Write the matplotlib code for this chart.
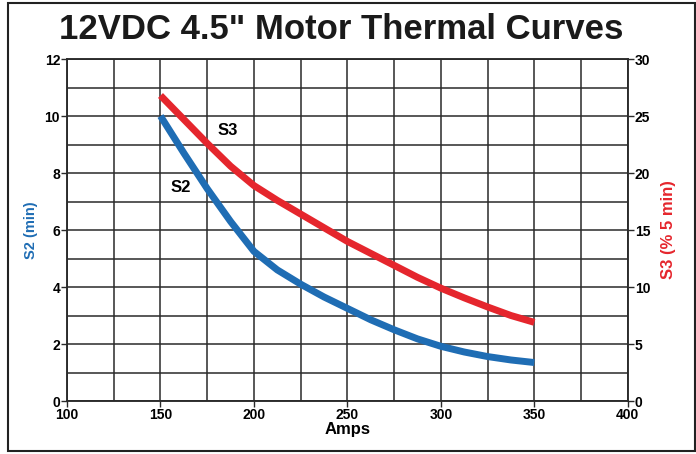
import matplotlib.pyplot as plt
from matplotlib.patches import Rectangle
from matplotlib.ticker import MultipleLocator

plt.rcParams['font.family'] = ['Liberation Sans', 'DejaVu Sans']

# data
amps = [150, 162.5, 175, 187.5, 200, 212.5, 225, 237.5, 250,
        262.5, 275, 287.5, 300, 312.5, 325, 337.5, 350]
s2_min = [10.0, 8.7, 7.45, 6.3, 5.25, 4.6, 4.1, 3.65, 3.25,
          2.85, 2.5, 2.18, 1.92, 1.72, 1.56, 1.44, 1.35]
s3_pct = [26.8, 24.7, 22.6, 20.6, 18.9, 17.6, 16.4, 15.2, 14.0,
          12.95, 11.9, 10.85, 9.9, 9.05, 8.25, 7.5, 6.9]

blue = '#1f6db4'
red = '#e5262d'

fig = plt.figure(figsize=(6.96, 4.54), dpi=100)
ax = fig.add_axes([0.0963, 0.1167, 0.8057, 0.7533])
ax2 = ax.twinx()

ax.plot(amps, s2_min, color=blue, lw=5, solid_capstyle='butt',
        solid_joinstyle='round', zorder=5)
ax2.plot(amps, s3_pct, color=red, lw=5, solid_capstyle='butt',
         solid_joinstyle='round', zorder=5)

ax.set_xlim(100, 400)
ax.set_ylim(0, 12)
ax2.set_ylim(0, 30)
ax.xaxis.set_major_locator(MultipleLocator(50))
ax.xaxis.set_minor_locator(MultipleLocator(25))
ax.yaxis.set_major_locator(MultipleLocator(2))
ax.yaxis.set_minor_locator(MultipleLocator(1))
ax2.yaxis.set_major_locator(MultipleLocator(5))

ax.grid(which='both', color='#2a2a2a', lw=1.1)
ax.set_axisbelow(True)
for a in (ax, ax2):
    for s in a.spines.values():
        s.set_color('#2a2a2a')
        s.set_linewidth(1.1)
    a.tick_params(which='major', length=4, width=1, color='#2a2a2a', pad=1,
                  labelsize=10)
    a.tick_params(which='minor', length=0)
    for lbl in a.get_xticklabels() + a.get_yticklabels():
        lbl.set_fontweight('bold')

ax.set_xlabel('Amps', fontsize=12, fontweight='bold', labelpad=0)
ax.set_ylabel('S2 (min)', fontsize=10.5, fontweight='bold', color=blue, labelpad=5)
ax2.set_ylabel('S3 (% 5 min)', fontsize=12, fontweight='bold', color=red, labelpad=8)

ax.text(186, 9.5, 'S3', fontsize=12, fontweight='bold', ha='center', va='center', zorder=6)
ax.text(161, 7.5, 'S2', fontsize=12, fontweight='bold', ha='center', va='center', zorder=6)

fig.text(0.49, 0.935, '12VDC 4.5" Motor Thermal Curves', fontsize=25,
         fontweight='bold', ha='center', va='center', color='#1a1a1a')

fig.patches.append(Rectangle((0.012, 0.006), 0.986, 0.988, transform=fig.transFigure,
                             fill=False, edgecolor='#222222', lw=1.5))

fig.savefig('out.png', dpi=100)
